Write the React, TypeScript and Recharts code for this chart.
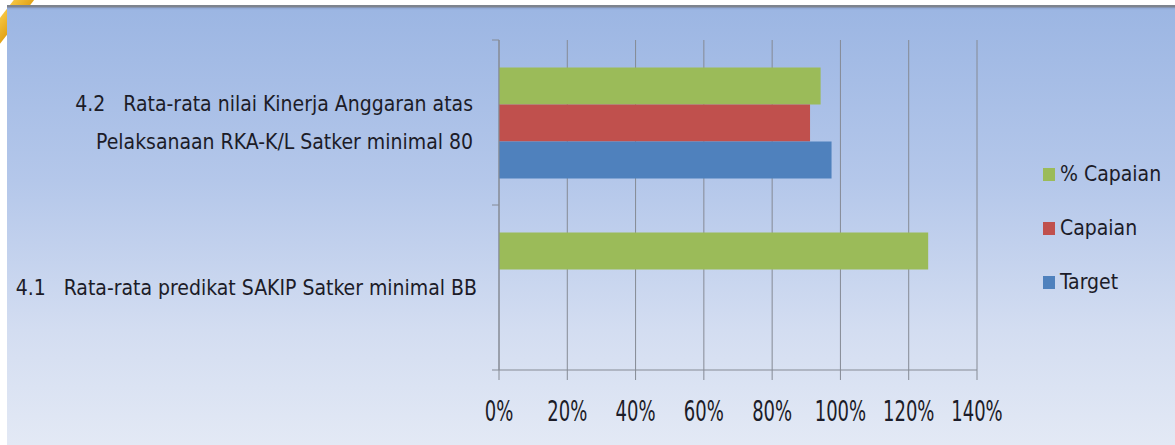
import React from 'react'
import { BarChart, Bar, XAxis, YAxis, CartesianGrid } from 'recharts'

const categories = [
  ['4.2   Rata-rata nilai Kinerja Anggaran atas', 'Pelaksanaan RKA-K/L Satker minimal 80'],
  ['4.1   Rata-rata predikat SAKIP Satker minimal BB'],
]
const persenCapaian = [0.942, 1.257]
const capaian = [0.911, null]
const target = [0.974, null]
const xTicks = [0, 0.2, 0.4, 0.6, 0.8, 1.0, 1.2, 1.4]

const series = [
  { key: 'persenCapaian', name: '% Capaian', color: '#9bbb59' },
  { key: 'capaian', name: 'Capaian', color: '#c0504d' },
  { key: 'target', name: 'Target', color: '#4f81bd' },
]

const data = categories.map((lines, i) => ({
  name: lines.join(' '),
  persenCapaian: persenCapaian[i],
  capaian: capaian[i],
  target: target[i],
}))

const FONT = '"Liberation Sans Narrow", "DejaVu Sans Condensed", sans-serif'
const TEXT = '#1c1c28'
const AXIS = '#858a94'

function CategoryTick(props: any) {
  const { x, y, payload, index, height } = props
  const half = payload.offset ?? height / categories.length / 2
  const lines: string[] = categories[index] || [payload.value]
  const lineH = 38
  const start = y - ((lines.length - 1) * lineH) / 2
  return (
    <g>
      <line x1={x - 7} x2={x} y1={y - half} y2={y - half} stroke={AXIS} />
      {index === categories.length - 1 && (
        <line x1={x - 7} x2={x} y1={y + half} y2={y + half} stroke={AXIS} />
      )}
      {lines.map((l, i) => (
        <text
          key={i}
          x={x - (lines.length > 1 ? 26 : 22)}
          y={start + i * lineH}
          dy="0.36em"
          textAnchor="end"
          fill={TEXT}
          fontSize={21}
          fontFamily={FONT}
          style={{ whiteSpace: 'pre' }}
        >
          {l}
        </text>
      ))}
    </g>
  )
}

function PercentTick(props: any) {
  const { x, y, payload } = props
  return (
    <g transform={`translate(${x},${y})`}>
      <text transform="scale(1,1.42)" x={0} y={0} dy="0.72em" textAnchor="middle" fill={TEXT} fontSize={20} fontFamily={FONT}>
        {`${Math.round(payload.value * 100)}%`}
      </text>
    </g>
  )
}

export default function App() {
  return (
    <div
      style={{
        position: 'fixed',
        left: 0,
        top: 0,
        width: 1175,
        height: 445,
        overflow: 'hidden',
        background: '#ffffff',
      }}
    >
      {/* gold corner of the slide frame */}
      <div
        style={{
          position: 'absolute',
          left: -22,
          top: 6,
          width: 70,
          height: 16,
          background: 'linear-gradient(to bottom, #f5c440, #e3a418)',
          transform: 'rotate(-52deg)',
          transformOrigin: 'center',
        }}
      />
      <div
        style={{
          position: 'absolute',
          left: 7,
          top: 5,
          width: 1168,
          height: 440,
          overflow: 'hidden',
          background:
            'linear-gradient(to bottom, #7d838e 0px, #7d838e 2px, #8ea6d4 3px, #9cb6e3 5px, #b4c7ea 175px, #d3ddf1 325px, #e3e9f5 440px)',
        }}
      >
        <BarChart
          width={1168}
          height={440}
          data={data}
          layout="vertical"
          margin={{ top: 35, right: 198, bottom: 0, left: 0 }}
          barCategoryGap="16.7%"
          barGap={0}
          style={{ position: 'absolute', left: 0, top: 0 }}
        >
          <CartesianGrid horizontal={false} stroke={AXIS} strokeWidth={1} />
          <XAxis
            type="number"
            domain={[0, 1.4]}
            ticks={xTicks}
            height={75}
            tickSize={10}
            tickMargin={21}
            stroke={AXIS}
            tick={<PercentTick />}
            interval={0}
          />
          <YAxis
            type="category"
            dataKey="name"
            width={492}
            tickLine={false}
            tickSize={0}
            tickMargin={0}
            stroke={AXIS}
            tick={<CategoryTick />}
            interval={0}
          />
          {series.map((s) => (
            <Bar key={s.key} dataKey={s.key} name={s.name} fill={s.color} isAnimationActive={false} />
          ))}
        </BarChart>
        <div style={{ position: 'absolute', left: 1036, top: 142, fontFamily: FONT, fontSize: 21, color: TEXT }}>
          {series.map((s) => (
            <div key={s.key} style={{ display: 'flex', alignItems: 'center', height: 54 }}>
              <span style={{ width: 12, height: 13, background: s.color, marginRight: 5 }} />
              <span>{s.name}</span>
            </div>
          ))}
        </div>
      </div>
    </div>
  )
}
